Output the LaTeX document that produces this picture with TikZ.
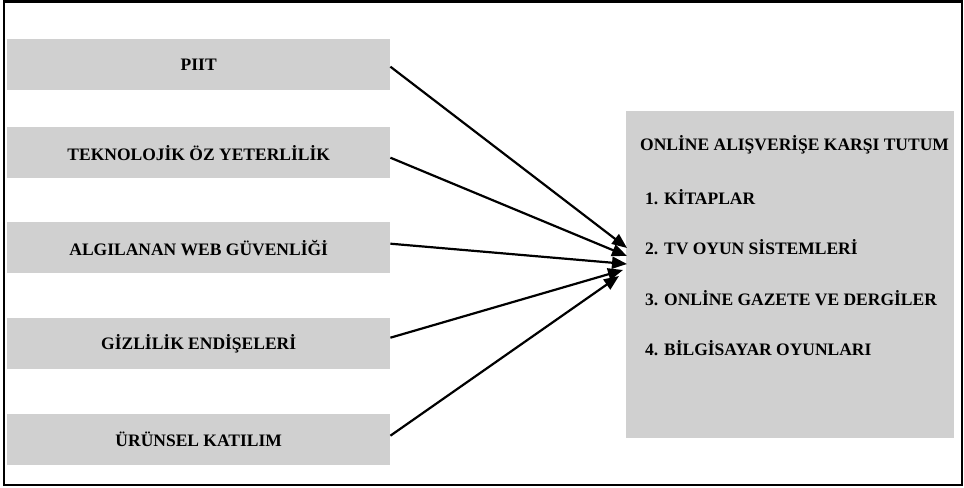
\documentclass[tikz,border=0pt]{standalone}
\usepackage{fontspec}
\setmainfont{Liberation Serif}
\usetikzlibrary{arrows.meta}
\definecolor{boxgray}{RGB}{208,208,208}
\begin{document}
\begin{tikzpicture}[x=1bp,y=-1bp,
  factor/.style={fill=boxgray,draw=none,minimum width=383bp,minimum height=51bp,
    inner sep=0pt,font=\bfseries\fontsize{17.5bp}{20bp}\selectfont,anchor=north west},
  link/.style={line width=2.2bp,-{Triangle[length=15bp,width=12bp]}},
  item/.style={font=\bfseries\fontsize{17.5bp}{20bp}\selectfont,anchor=west,inner sep=0pt}]
  \useasboundingbox (0,0) rectangle (964,488);
  % outer frame
  \draw[line width=2.2bp] (4,1.5) rectangle (962,485);
  % factor boxes
  \node[factor] (f1) at (7,39)  {PIIT};
  \node[factor] (f2) at (7,127) {TEKNOLOJİK ÖZ YETERLİLİK};
  \node[factor] (f3) at (7,222) {ALGILANAN WEB GÜVENLİĞİ};
  \node[factor] (f4) at (7,318) {GİZLİLİK ENDİŞELERİ};
  \node[factor] (f5) at (7,414) {ÜRÜNSEL KATILIM};
  % outcome box
  \node[fill=boxgray,minimum width=328bp,minimum height=327bp,inner sep=0pt,anchor=north west] (out) at (626,111) {};
  \node[item] (t0) at (640,145) {ONLİNE ALIŞVERİŞE KARŞI TUTUM};
  \node[item] (t1) at (645,197) {1. KİTAPLAR};
  \node[item] (t2) at (645,247) {2. TV OYUN SİSTEMLERİ};
  \node[item] (t3) at (645,298) {3. ONLİNE GAZETE VE DERGİLER};
  \node[item] (t4) at (645,348) {4. BİLGİSAYAR OYUNLARI};
  % arrow targets
  \coordinate (e1) at (627,248);
  \coordinate (e2) at (627,256);
  \coordinate (e3) at (627,264);
  \coordinate (e4) at (623,270);
  \coordinate (e5) at (619,276);
  % connectors
  \draw[link] ([yshift=-2bp]f1.east) -- (e1);
  \draw[link] ([yshift=-5bp]f2.east) -- (e2);
  \draw[link] ([yshift=4bp]f3.east) -- (e3);
  \draw[link] ([yshift=6bp]f4.east) -- (e4);
  \draw[link] ([yshift=4bp]f5.east) -- (e5);
\end{tikzpicture}
\end{document}
